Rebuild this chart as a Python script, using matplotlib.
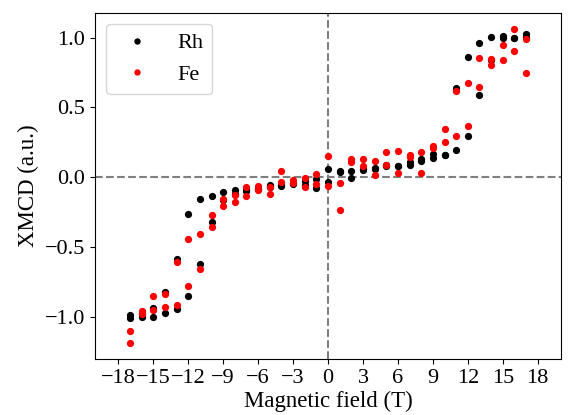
import numpy as np
import matplotlib
matplotlib.use('Agg')
import matplotlib.pyplot as plt

plt.rcParams['font.family'] = ['Liberation Serif', 'DejaVu Serif']
plt.rcParams['font.size'] = 16
plt.rcParams['mathtext.fontset'] = 'stix'

# magnetic field (T), two sweeps per element
field = [-17, -16, -15, -14, -13, -12, -11, -10, -9, -8, -7, -6, -5, -4, -3, -2, -1, 0,
         1, 2, 3, 4, 5, 6, 7, 8, 9, 10, 11, 12, 13, 14, 15, 16, 17]

rh_up = [-0.99, -1.00, -0.935, -0.821, -0.588, -0.262, -0.159, -0.138, -0.107, -0.095,
         -0.085, -0.083, -0.054, -0.060, -0.048, -0.027, -0.012, 0.060,
         0.045, 0.041, 0.048, 0.060, 0.079, 0.079, 0.110, 0.130, 0.167, 0.155,
         0.636, 0.857, 0.964, 1.005, 1.012, 0.998, 1.024]
rh_down = [-1.01, -0.98, -1.00, -0.972, -0.947, -0.850, -0.621, -0.325, -0.166, -0.119,
           -0.100, -0.088, -0.074, -0.055, -0.044, -0.053, -0.077, -0.036,
           0.040, -0.007, 0.060, 0.065, 0.085, 0.080, 0.090, 0.115, 0.140, 0.155,
           0.191, 0.298, 0.589, 0.840, 1.000, 0.995, 1.007]

fe_up = [-1.10, -0.96, -0.852, -0.838, -0.607, -0.440, -0.405, -0.269, -0.157, -0.126,
         -0.070, -0.062, -0.073, 0.042, -0.024, -0.008, 0.021, 0.150,
         -0.041, 0.128, 0.131, 0.119, 0.177, 0.184, 0.155, 0.179, 0.226, 0.345,
         0.619, 0.674, 0.850, 0.846, 0.946, 1.064, 0.986]
fe_down = [-1.19, -0.98, -0.953, -0.933, -0.916, -0.781, -0.657, -0.354, -0.210, -0.180,
           -0.135, -0.093, -0.120, -0.036, -0.040, -0.068, -0.052, -0.062,
           -0.238, 0.105, 0.079, 0.017, 0.084, 0.030, 0.145, 0.030, 0.212, 0.249,
           0.293, 0.364, 0.648, 0.805, 0.840, 0.907, 0.746]

fig = plt.figure(figsize=(5.69, 4.15), dpi=100)
ax = fig.add_axes([0.167, 0.135, 0.819, 0.834])

B = np.array(field + field)
ax.plot(B, rh_up + rh_down, 'o', color='black', ms=4.2, label='Rh')
ax.plot(B, fe_up + fe_down, 'o', color='red', ms=4.2, label='Fe')

ax.axhline(0, color='grey', ls='--', lw=1.5, zorder=0)
ax.axvline(0, color='grey', ls='--', lw=1.5, zorder=0)

ax.set_xlim(-20, 20)
ax.set_xticks(np.arange(-18, 19, 3))
ax.set_xlabel('Magnetic field (T)', fontsize=16.5, labelpad=2.5)
ax.set_ylabel('XMCD (a.u.)', fontsize=16.5)
ax.legend(loc='upper left', markerscale=0.85)

fig.savefig('out.png', dpi=100)
